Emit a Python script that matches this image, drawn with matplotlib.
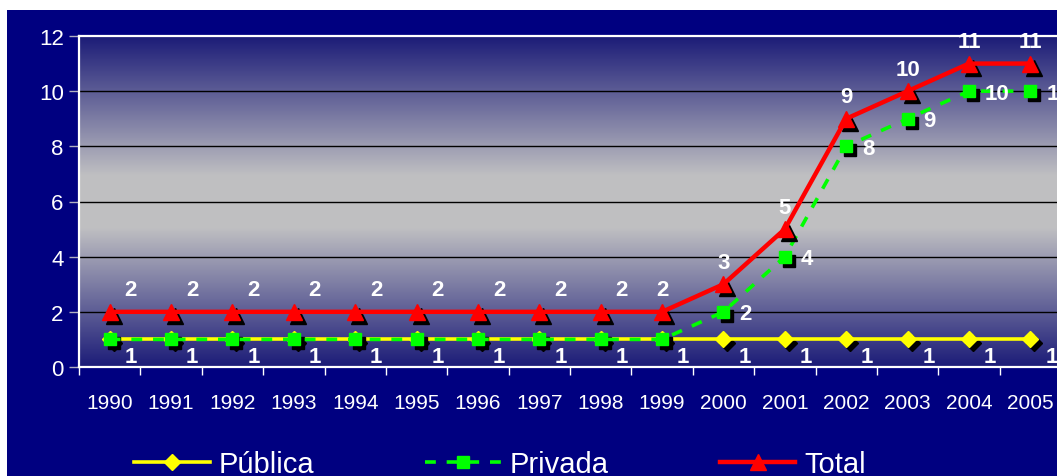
import numpy as np
import matplotlib.pyplot as plt
import matplotlib.transforms as mtransforms
from matplotlib.colors import LinearSegmentedColormap
from matplotlib.patches import Rectangle

plt.rcParams['font.family'] = ['Liberation Sans', 'DejaVu Sans']

years = ['1990', '1991', '1992', '1993', '1994', '1995', '1996', '1997',
         '1998', '1999', '2000', '2001', '2002', '2003', '2004', '2005']
publica = [1, 1, 1, 1, 1, 1, 1, 1, 1, 1, 1, 1, 1, 1, 1, 1]
privada = [1, 1, 1, 1, 1, 1, 1, 1, 1, 1, 2, 4, 8, 9, 10, 10]
total = [2, 2, 2, 2, 2, 2, 2, 2, 2, 2, 3, 5, 9, 10, 11, 11]

navy = '#000080'
W, H = 1057, 477
fig = plt.figure(figsize=(W / 100, H / 100), dpi=100, facecolor='white')
# navy panel (white strip on top and left edge)
fig.patches.append(Rectangle((7 / W, 0), 1, 1 - 11 / H, transform=fig.transFigure,
                             facecolor=navy, edgecolor='none', zorder=-10))

ax = fig.add_axes([79 / W, 1 - 368 / H, 982 / W, 331 / H])
x = np.arange(len(years))
ax.set_xlim(-0.5, len(years) - 0.5)
ax.set_ylim(0, 12)

# gradient background of the plot area
cmap = LinearSegmentedColormap.from_list('bg', [
    (0.00, (0.11, 0.11, 0.47)),
    (0.42, (0.75, 0.75, 0.76)),
    (0.58, (0.75, 0.75, 0.76)),
    (1.00, (0.11, 0.11, 0.47)),
])
grad = np.linspace(0, 1, 256).reshape(-1, 1)
ax.imshow(grad, aspect='auto', cmap=cmap, extent=(-0.5, len(years) - 0.5, 0, 12),
          origin='lower', zorder=0)

ax.set_yticks(range(0, 13, 2))
for yv in range(2, 12, 2):
    ax.axhline(yv, color='black', lw=1, zorder=1)

for s in ax.spines.values():
    s.set_color('white')
    s.set_linewidth(1.6)
    s.set_zorder(5)

ax.set_xticks(x)
ax.set_xticklabels(years)
ax.set_xticks(np.arange(-0.5, len(years)), minor=True)
ax.tick_params(axis='x', which='major', length=0, pad=19, labelsize=15, colors='white')
ax.tick_params(axis='x', which='minor', length=6, width=1, color='white', direction='out')
ax.tick_params(axis='y', length=7, width=1, color='#b0b0c0', labelsize=16,
               labelcolor='white', pad=4)

shadow = mtransforms.offset_copy(ax.transData, fig=fig, x=4, y=-4, units='dots')

series = [
    (publica, 'Pública', dict(color='#ffff00', lw=2.6, ls='-', marker='D', ms=8)),
    (privada, 'Privada', dict(color='#00ff00', lw=2.6, ls=(0, (3, 3)), marker='s', ms=9)),
    (total, 'Total', dict(color='#ff0000', lw=3.2, ls='-', marker='^', ms=11)),
]
z = 3
for vals, name, st in series:
    ax.plot(x, vals, ls='none', marker=st['marker'], ms=st['ms'], color='black',
            transform=shadow, zorder=z, clip_on=False)
    ax.plot(x, vals, color=st['color'], lw=st['lw'], ls=st['ls'], marker=st['marker'],
            ms=st['ms'], mfc=st['color'], mec=st['color'], label=name, zorder=z + 1,
            clip_on=False)
    z += 2

lab = dict(color='white', fontsize=16, fontweight='bold', textcoords='offset pixels',
           zorder=20, annotation_clip=False)
for i in x:
    ax.annotate(str(publica[i]), (i, publica[i]), xytext=(21, -17), ha='center',
                va='center', **lab)
    if privada[i] != publica[i]:
        ax.annotate(str(privada[i]), (i, privada[i]), xytext=(16, -2), ha='left',
                    va='center', **lab)
    dx = 21 if i < 9 else 0
    ax.annotate(str(total[i]), (i, total[i]), xytext=(dx, 22), ha='center',
                va='center', **lab)

leg = fig.legend(loc='center', bbox_to_anchor=(0.473, 1 - 465 / H), ncol=3, frameon=False,
                 fontsize=21, handlelength=2.6, handletextpad=0.3, columnspacing=3.8,
                 labelcolor='white')

fig.savefig('out.png', dpi=100, facecolor=fig.get_facecolor())
